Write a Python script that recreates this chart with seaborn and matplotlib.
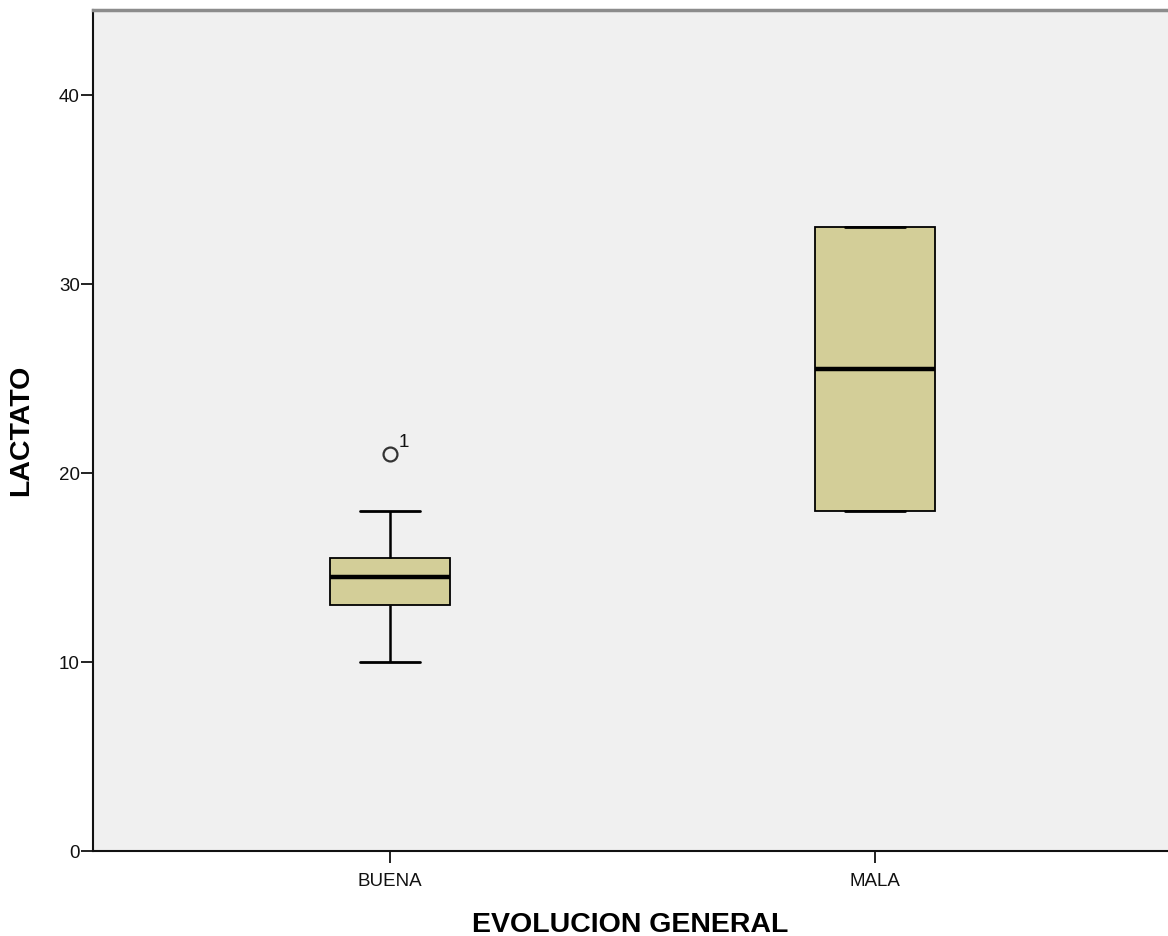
import numpy as np
import pandas as pd
import matplotlib
matplotlib.use("Agg")
import matplotlib.pyplot as plt
import seaborn as sns

# Lactate values per outcome group
buena_vals = [10, 12, 13, 13, 14, 14.5, 15, 15.5, 15.5, 18, 21]
mala_vals = [18, 18, 25.5, 33, 33]
groups = ["BUENA", "MALA"]
y_ticks = [0, 10, 20, 30, 40]
# case number shown next to the outlier
outlier_labels = [("BUENA", 21, "1")]

df = pd.DataFrame({
    "EVOLUCION GENERAL": ["BUENA"] * len(buena_vals) + ["MALA"] * len(mala_vals),
    "LACTATO": buena_vals + mala_vals,
})

sns.set_style("ticks")
plt.rcParams['font.family'] = ['Liberation Sans', 'DejaVu Sans']

fig = plt.figure(figsize=(11.68, 9.36), dpi=100)
ax = fig.add_axes([93 / 1168, 85 / 936, 1075 / 1168, 841 / 936])
ax.set_facecolor("#F0F0F0")

box_w = 0.247
sns.boxplot(data=df, x="EVOLUCION GENERAL", y="LACTATO", order=groups, ax=ax,
            color="#D3CE98", saturation=1, width=box_w, linecolor="black",
            linewidth=1.5, capwidths=box_w / 2,
            boxprops=dict(linewidth=1.3),
            medianprops=dict(linewidth=3.2, color="black"),
            whiskerprops=dict(linewidth=1.8),
            capprops=dict(linewidth=2),
            flierprops=dict(marker="o", markersize=10, markerfacecolor="none",
                            markeredgecolor="#333333", markeredgewidth=1.6))

for grp, val, lab in outlier_labels:
    ax.annotate(lab, (groups.index(grp), val), xytext=(6, 5),
                textcoords="offset points", fontsize=13.5, color="#111111")

ax.set_xlim(-0.612, 1.604)
ax.set_ylim(0, 44.5)
ax.set_yticks(y_ticks)
ax.tick_params(axis="both", length=8.5, width=1.4, color="#222222",
               labelsize=13.5, labelcolor="#111111")
ax.tick_params(axis="y", pad=1)
ax.tick_params(axis="x", pad=7)

ax.set_xlabel("EVOLUCION GENERAL", fontsize=20.5, fontweight="bold",
              labelpad=16, color="black")
ax.set_ylabel("LACTATO", fontsize=20.5, fontweight="bold", labelpad=18,
              color="black")

ax.spines["right"].set_visible(False)
ax.spines["left"].set_linewidth(1.5)
ax.spines["left"].set_color("#111111")
ax.spines["bottom"].set_linewidth(1.5)
ax.spines["bottom"].set_color("#111111")
ax.spines["top"].set_linewidth(2.5)
ax.spines["top"].set_color("#8C8C8C")

fig.savefig("out.png", dpi=100)
